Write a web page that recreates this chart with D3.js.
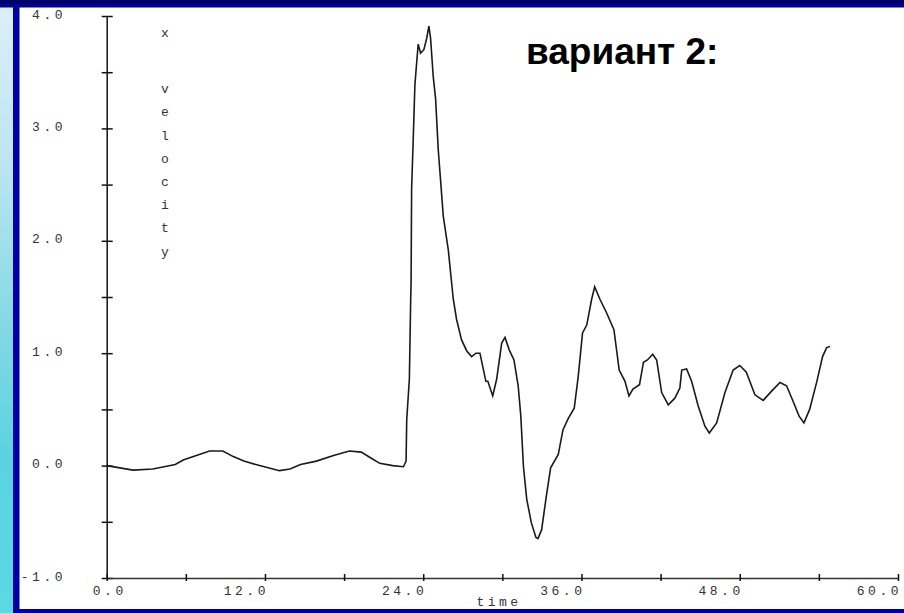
<html>
  <head>
    <script src="https://cdn.jsdelivr.net/npm/d3@7/dist/d3.min.js"></script>
    <style>
      body { margin: 0; background: #fff; }
      .lbl { font-family: "Liberation Mono", "DejaVu Sans Mono", monospace; font-size: 13px; fill: #333; letter-spacing: 3.5px; }
    </style>
  </head>

  <body>
    <div id="chart"></div>
  </body>

  <script>
    // time samples
    let timeVals = [0, 1.0, 2.0, 3.5, 5.2, 5.8, 6.8, 7.8, 8.8, 9.6, 10.4, 11.6, 13.1, 13.9, 14.7, 15.9,
      17.2, 18.4, 19.3, 20.0, 20.7, 21.7, 22.5, 22.7, 22.75, 22.95, 23.05, 23.08, 23.12, 23.25, 23.37,
      23.5, 23.62, 23.8, 24.05, 24.26, 24.43, 24.56, 24.76, 24.94, 25.14, 25.27, 25.52, 25.9, 26.28,
      26.53, 26.9, 27.3, 27.67, 28.0, 28.3, 28.75, 28.9, 29.27, 29.57, 29.95, 30.2, 30.52, 30.88, 31.2,
      31.4, 31.6, 31.85, 32.2, 32.55, 32.7, 32.98, 33.3, 33.66, 34.24, 34.6, 35.0, 35.45, 35.75, 36.08,
      36.4, 36.77, 37.0, 37.4, 37.9, 38.46, 38.86, 39.3, 39.6, 39.9, 40.4, 40.7, 41.0, 41.4, 41.7, 42.08,
      42.58, 43.08, 43.46, 43.6, 43.97, 44.35, 44.85, 45.36, 45.69, 46.25, 46.88, 47.5, 48.0, 48.5,
      49.15, 49.78, 50.4, 51.05, 51.55, 52.05, 52.5, 52.87, 53.3, 53.83, 54.28, 54.59, 54.84]

    // x velocity at each sample
    let velocityVals = [0, -0.02, -0.04, -0.03, 0.01, 0.05, 0.09, 0.13, 0.13, 0.08, 0.04, 0.0, -0.045, -0.03, 0.01, 0.04,
      0.09, 0.13, 0.12, 0.07, 0.02, 0.0, -0.01, 0.04, 0.41, 0.77, 1.48, 1.63, 2.46, 2.93, 3.39,
      3.58, 3.75, 3.67, 3.70, 3.80, 3.91, 3.80, 3.46, 3.26, 2.81, 2.61, 2.22, 1.92, 1.48,
      1.30, 1.12, 1.02, 0.97, 1.00, 1.00, 0.75, 0.75, 0.62, 0.77, 1.09, 1.14, 1.03, 0.94, 0.71,
      0.44, -0.01, -0.30, -0.51, -0.64, -0.65, -0.57, -0.30, -0.02, 0.10, 0.32, 0.42, 0.51, 0.79, 1.18,
      1.25, 1.48, 1.59, 1.48, 1.36, 1.21, 0.85, 0.75, 0.62, 0.68, 0.72, 0.92, 0.94, 0.99, 0.94, 0.65,
      0.54, 0.60, 0.69, 0.85, 0.86, 0.75, 0.53, 0.35, 0.29, 0.38, 0.65, 0.85, 0.89, 0.83,
      0.63, 0.58, 0.66, 0.74, 0.71, 0.57, 0.44, 0.38, 0.50, 0.74, 0.97, 1.05, 1.06]

    // tick values and labels
    let xTicks = [0, 6, 12, 18, 24, 30, 36, 42, 48, 54, 60]
    let xLabels = [0, 12, 24, 36, 48, 60]
    let yTicks = [-1, -0.5, 0, 0.5, 1, 1.5, 2, 2.5, 3, 3.5, 4]
    let yLabels = [-1, 0, 1, 2, 3, 4]
    let yTitle = ['x', '', '', 'v', 'e', 'l', 'o', 'c', 'i', 't', 'y']

    let width = 904, height = 613

    let svg = d3.select("#chart").append("svg")
      .attr("width", width)
      .attr("height", height)

    // slide decoration: left gradient strip, blue bars
    let defs = svg.append("defs")
    let grad = defs.append("linearGradient").attr("id", "side")
      .attr("x1", 0).attr("y1", 0).attr("x2", 0).attr("y2", 1)
    grad.append("stop").attr("offset", "0%").attr("stop-color", "#dcEFf9")
    grad.append("stop").attr("offset", "25%").attr("stop-color", "#bfe6f2")
    grad.append("stop").attr("offset", "55%").attr("stop-color", "#80d8e4")
    grad.append("stop").attr("offset", "75%").attr("stop-color", "#5ad3df")
    grad.append("stop").attr("offset", "100%").attr("stop-color", "#5cd8e2")

    svg.append("rect").attr("x", 0).attr("y", 0).attr("width", 13).attr("height", height).attr("fill", "url(#side)")
    svg.append("rect").attr("x", 13).attr("y", 0).attr("width", 6.5).attr("height", height).attr("fill", "#0000a8")
    svg.append("rect").attr("x", 0).attr("y", 0).attr("width", width).attr("height", 4).attr("fill", "#000068")
    svg.append("rect").attr("x", 0).attr("y", 4).attr("width", width).attr("height", 3.5).attr("fill", "#000098")
    svg.append("rect").attr("x", 13).attr("y", 609).attr("width", width).attr("height", 4).attr("fill", "#0000a0")

    // scales
    let x = d3.scaleLinear().domain([0, 60]).range([106.7, 898])
    let y = d3.scaleLinear().domain([-1, 4]).range([578, 16])

    // Y axis with ticks crossing the line
    let yAxis = svg.append("g")
      .attr("transform", "translate(" + x(0) + ",0)")
      .call(d3.axisLeft(y).tickValues(yTicks).tickFormat("").tickSizeOuter(0))
    yAxis.select(".domain").attr("stroke", "#111").attr("stroke-width", 1.5)
    yAxis.selectAll(".tick line").attr("x1", -5).attr("x2", 6).attr("stroke", "#111").attr("stroke-width", 1.5)

    // X axis
    let xAxis = svg.append("g")
      .attr("transform", "translate(0," + y(-1) + ")")
      .call(d3.axisBottom(x).tickValues(xTicks).tickFormat("").tickSizeOuter(0))
    xAxis.select(".domain").attr("stroke", "#333").attr("stroke-width", 1.5)
    xAxis.selectAll(".tick line").attr("y1", -4).attr("y2", 3).attr("stroke", "#111").attr("stroke-width", 1.5)

    // y tick labels
    svg.selectAll(".ylbl").data(yLabels).enter().append("text")
      .attr("class", "lbl")
      .attr("x", 66)
      .attr("y", (d) => y(d) - 2)
      .attr("dy", "0.35em")
      .attr("text-anchor", "end")
      .text((d) => d.toFixed(1))

    // x tick labels (0.0 sits centred, the rest end at their tick)
    svg.selectAll(".xlbl").data(xLabels).enter().append("text")
      .attr("class", "lbl")
      .attr("x", (d) => d == 0 ? x(d) + 20 : x(d) + 4)
      .attr("y", 590)
      .attr("dy", "0.35em")
      .attr("text-anchor", "end")
      .text((d) => d.toFixed(1))

    svg.append("text").attr("class", "lbl")
      .attr("x", 499).attr("y", 601).attr("dy", "0.35em")
      .attr("text-anchor", "middle")
      .text("time")

    // vertical axis title, one letter per line
    svg.selectAll(".ytitle").data(yTitle).enter().append("text")
      .attr("class", "lbl")
      .attr("x", 165)
      .attr("y", (d, i) => 32 + i * 23.2 - (i > 2 ? 13 : 0))
      .attr("dy", "0.35em")
      .attr("text-anchor", "middle")
      .style("letter-spacing", "0px")
      .text((d) => d)

    // the velocity curve
    let points = timeVals.map((t, i) => [t, velocityVals[i]])
    let line = d3.line().x((d) => x(d[0])).y((d) => y(d[1]))
    svg.append("path")
      .datum(points)
      .attr("d", line)
      .attr("fill", "none")
      .attr("stroke", "#1a1a1a")
      .attr("stroke-width", 1.6)

    // slide heading
    svg.append("text")
      .attr("x", 526)
      .attr("y", 64)
      .attr("font-family", "Liberation Sans, Arial, sans-serif")
      .attr("font-weight", "bold")
      .attr("font-size", 37)
      .attr("fill", "#000")
      .text("вариант 2:")
  </script>
</html>
